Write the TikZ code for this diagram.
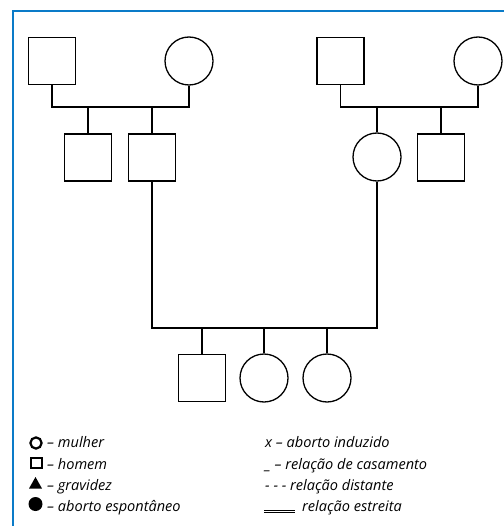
\documentclass[tikz,border=0pt]{standalone}
\usepackage{fontspec}
\usepackage{xcolor}
\usepackage{tikz}
\newfontfamily\legfont{Open Sans}
\usetikzlibrary{positioning,calc}
\definecolor{framblue}{HTML}{0A7BC8}

\tikzset{
  male/.style={draw, line width=1.3bp, rectangle, minimum size=47bp, inner sep=0pt},
  female/.style={draw, line width=1.3bp, circle, minimum size=48bp, inner sep=0pt},
  tie/.style={line width=1.3bp},
  legtxt/.style={anchor=base west, inner sep=0pt, font=\legfont\itshape\fontsize{14.6}{16}\selectfont}
}

\begin{document}
\begin{tikzpicture}[x=1bp, y=-1bp]
\useasboundingbox (0,0) rectangle (504,526);
% frame
\draw[framblue, line width=2bp] (13,526) -- (13,11.5) -- (504,11.5);

% left grandparents
\node[male] (gfa) at (52,61) {};
\node[female] (gma) at (189,61) {};
\coordinate (ma) at (120,107);
\draw[tie] (gfa.south) |- (ma) -| (gma.south);
\node[male] (una) at (88,157.5) {};
\node[male] (fat) at (152,157.5) {};
\draw[tie] (una.north) -- (una.north |- ma);
\draw[tie] (fat.north) -- (fat.north |- ma);

% right grandparents
\node[male] (gfb) at (340.5,61) {};
\node[female] (gmb) at (478,61) {};
\coordinate (mb) at (410,107);
\draw[tie] (gfb.south) |- (mb) -| (gmb.south);
\node[female] (mot) at (377,157) {};
\node[male] (unb) at (441,157.5) {};
\draw[tie] (mot.north) -- (mot.north |- mb);
\draw[tie] (unb.north) -- (unb.north |- mb);

% parents and children
\coordinate (mc) at (264,328);
\draw[tie] (fat.south) |- (mc) -| (mot.south);
\node[male] (son) at (202,378) {};
\node[female] (dta) at (264,378) {};
\node[female] (dtb) at (327,378) {};
\draw[tie] (son.north) -- (son.north |- mc);
\draw[tie] (dta.north) -- (dta.north |- mc);
\draw[tie] (dtb.north) -- (dtb.north |- mc);

% legend, left column
\draw[line width=2.2bp] (36,443) circle (5.6);
\draw[line width=2bp] (30.5,458) rectangle (41.5,468);
\fill (29,488.5) -- (42,488.5) -- (35.5,477) -- cycle;
\fill (35.5,504) circle (7);
\node[legtxt] (l1) at (47,447.5) {– mulher};
\node[legtxt] (l2) at (47,469) {– homem};
\node[legtxt] (l3) at (47,490.5) {– gravidez};
\node[legtxt] (l4) at (47,511.5) {– aborto espontâneo};

% legend, right column
\node[legtxt] (r1) at (265,447.5) {x – aborto induzido};
\node[legtxt] (r2) at (265,469) {\_ – relação de casamento};
\node[legtxt] (r3) at (265,490.5) {- - - relação distante};
\draw[line width=0.6bp] (264,509.8) -- (295,509.8);
\draw[line width=0.6bp] (264,512.2) -- (295,512.2);
\node[legtxt] (r4) at (302,511.5) {relação estreita};
\end{tikzpicture}
\end{document}
